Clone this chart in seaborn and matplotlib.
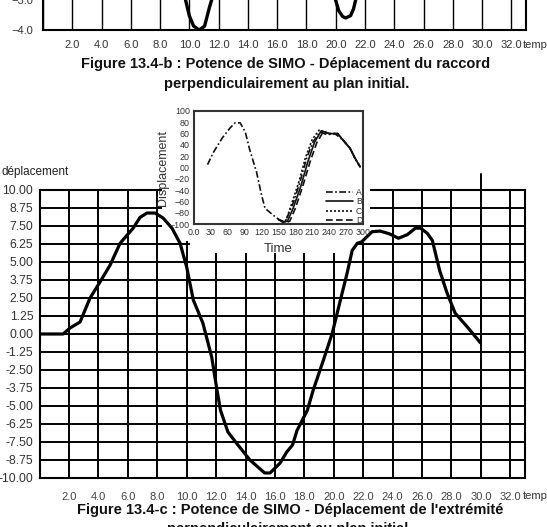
import numpy as np
import pandas as pd
import matplotlib
matplotlib.use("Agg")
import matplotlib.pyplot as plt
from matplotlib.patches import Rectangle
import seaborn as sns

# ---------------- data ----------------
# main chart (Figure 13.4-c)
time_c = [0, 1.6, 2.07, 2.75, 3.43, 4.1, 4.8, 5.47, 6.36, 6.83, 7.3, 7.85, 8.4, 9.0, 9.55,
          10.0, 10.45, 11.1, 11.7, 12.06, 12.3, 12.8, 13.4, 14.3, 15.3, 15.67, 16.35, 16.8,
          17.2, 17.5, 18.2, 18.6, 19.3, 19.9, 20.4, 20.9, 21.25, 21.6, 21.9, 22.6, 23.15,
          23.8, 24.4, 25.0, 25.55, 25.9, 26.35, 26.7, 27.2, 27.7, 28.25, 29.07, 29.96]
disp_c = [0, 0, 0.42, 0.83, 2.5, 3.6, 4.8, 6.3, 7.35, 8.1, 8.4, 8.4, 8.05, 7.35, 6.3,
          4.65, 2.36, 0.76, -1.6, -3.9, -5.3, -6.8, -7.6, -8.75, -9.65, -9.65, -8.96, -8.2,
          -7.7, -6.7, -5.3, -3.9, -1.8, 0.07, 2.15, 4.2, 5.8, 6.3, 6.4, 7.1, 7.15,
          6.95, 6.65, 6.9, 7.35, 7.35, 7.0, 6.5, 4.4, 2.85, 1.45, 0.5, -0.6]
y_ticks_c = [10.0, 8.75, 7.5, 6.25, 5.0, 3.75, 2.5, 1.25, 0.0, -1.25, -2.5, -3.75,
             -5.0, -6.25, -7.5, -8.75, -10.0]
y_labels_c = ["10.00", "8.75", "7.50", "6.25", "5.00", "3.75", "2.50", "1.25", "0.00",
              "-1.25", "-2.50", "-3.75", "-5.00", "-6.25", "-7.50", "-8.75", "-10.00"]
x_ticks = [0, 2, 4, 6, 8, 10, 12, 14, 16, 18, 20, 22, 24, 26, 28, 30, 32]
x_labels = ["", "2.0", "4.0", "6.0", "8.0", "10.0", "12.0", "14.0", "16.0", "18.0",
            "20.0", "22.0", "24.0", "26.0", "28.0", "30.0", "32.0"]

# top fragment (bottom of Figure 13.4-b)
time_b = [9.6, 9.74, 10.0, 10.29, 10.67, 11.04, 11.22, 11.38, 11.52, 11.7,
          19.85, 19.99, 20.2, 20.47, 20.68, 21.02, 21.22, 21.36, 21.5]
disp_b = [-2.5, -3.0, -3.53, -3.87, -4.0, -3.87, -3.53, -3.23, -3.0, -2.5,
          -2.5, -3.0, -3.35, -3.55, -3.6, -3.52, -3.29, -3.0, -2.5]

# inset
t_A = [24, 34, 50, 64, 73, 82, 91, 99, 111, 120, 126, 140, 156, 162, 176, 188, 200,
       211, 224, 236, 250, 265, 277, 285, 295]
d_A = [5, 26, 52, 70, 79, 79, 63, 31, -8, -49, -72, -84, -96, -96, -63, -26, 17,
       45, 63, 58, 60, 48, 34, 18, 1]
t_B = [150, 160, 166, 176, 190, 202, 214, 226, 240, 255, 265, 277, 285, 295]
d_B = [-92, -96, -95, -72, -32, 10, 45, 65, 60, 60, 48, 34, 18, 1]
t_C = [150, 158, 164, 172, 186, 198, 210, 222, 240, 255, 265, 277, 285, 295]
d_C = [-92, -97, -92, -68, -26, 18, 50, 66, 60, 60, 48, 34, 18, 1]
t_D = [150, 162, 170, 180, 194, 206, 218, 230, 240, 255, 265, 277, 285, 295]
d_D = [-92, -98, -95, -72, -30, 10, 44, 64, 60, 60, 48, 34, 18, 1]
inset_xticks = [0, 30, 60, 90, 120, 150, 180, 210, 240, 270, 300]
inset_xlabels = ["0.0", "30", "60", "90", "120", "150", "180", "210", "240", "270", "300"]
inset_yticks = [-100, -80, -60, -40, -20, 0, 20, 40, 60, 80, 100]
inset_ylabels = ["\u2212100", "\u221280", "\u221260", "\u221240", "\u221220", "00",
                 "20", "40", "60", "80", "100"]

# ---------------- style ----------------
sns.set_style("white")
plt.rcParams["font.family"] = ["Liberation Sans", "DejaVu Sans"]

W, H = 547, 527
fig = plt.figure(figsize=(W / 100, H / 100), dpi=100)
fig.patch.set_facecolor("white")


def fx(px):
    return px / W


def fy(py):
    return (H - py) / H


# ---------------- top fragment ----------------
axt = fig.add_axes([fx(43), fy(30), fx(526) - fx(43), 60 / H])
sns.lineplot(x=time_b, y=disp_b, ax=axt, color="black", lw=2.4, sort=False, zorder=3)
axt.set_xlim(0, 33)
axt.set_ylim(-4, -2)
axt.set_xticks(x_ticks)
axt.set_xticklabels(x_labels)
axt.set_yticks([-4, -3])
axt.set_yticklabels(["\u22124.0", "\u22123.0"])
axt.grid(True, axis="x", color="black", lw=1.0)
axt.set_axisbelow(True)
for s in axt.spines.values():
    s.set_color("black")
    s.set_linewidth(1.5)
axt.tick_params(axis="both", direction="out", length=4, width=1.2, colors="black",
                labelsize=8, labelcolor="#333333", pad=3)
axt.set_xlabel("")
axt.set_ylabel("")
fig.text(fx(523), fy(45), "temps", ha="left", va="center", fontsize=8, color="#333333")

fig.text(fx(286), fy(64), "Figure 13.4-b : Potence de SIMO - Déplacement du raccord",
         ha="center", va="center", fontsize=10.5, weight="bold", color="#111111")
fig.text(fx(287), fy(84), "perpendiculairement au plan initial.",
         ha="center", va="center", fontsize=10.5, weight="bold", color="#111111")

# ---------------- main chart ----------------
ax = fig.add_axes([fx(39.6), fy(478), fx(525) - fx(39.6), 288 / H])
sns.lineplot(x=time_c, y=disp_c, ax=ax, color="black", lw=2.3, sort=False, zorder=3)
ax.set_xlim(0, 33)
ax.set_ylim(-10, 10)
ax.set_xticks(x_ticks)
ax.set_xticklabels(x_labels)
ax.set_yticks(y_ticks_c)
ax.set_yticklabels(y_labels_c)
ax.grid(True, color="black", lw=1.4)
ax.set_axisbelow(True)
for s in ax.spines.values():
    s.set_color("black")
    s.set_linewidth(1.5)
ax.tick_params(axis="x", direction="out", length=5, width=1.3, colors="black",
               labelsize=8, labelcolor="#444444", pad=5)
ax.tick_params(axis="y", direction="out", length=3, width=1.3, colors="black",
               labelsize=8.8, labelcolor="#333333", pad=1.5)
ax.set_xlabel("")
ax.set_ylabel("")
ax.axvline(30, ymin=0, ymax=1 + 16 / 288, color="black", lw=1.4, clip_on=False, zorder=0.5)

# white areas where the inset sits
for (x0, y0, x1, y1) in [(162, 95, 370, 241), (190, 241, 358, 253)]:
    ax.add_patch(Rectangle((fx(x0), fy(y1)), fx(x1) - fx(x0), (y1 - y0) / H,
                           transform=fig.transFigure, facecolor="white",
                           edgecolor="none", zorder=2.7, clip_on=False))

fig.text(fx(1), fy(172), "déplacement", ha="left", va="center", fontsize=8.5,
         color="#222222")
fig.text(fx(523), fy(496), "temps", ha="left", va="center", fontsize=8, color="#333333")

fig.text(fx(290), fy(510), "Figure 13.4-c : Potence de SIMO - Déplacement de l'extrémité",
         ha="center", va="center", fontsize=10.5, weight="bold", color="#111111")
fig.text(fx(290), fy(529), "perpendiculairement au plan initial.",
         ha="center", va="center", fontsize=10.5, weight="bold", color="#111111")

# ---------------- inset ----------------
axi = fig.add_axes([fx(194), fy(224), fx(363) - fx(194), 113 / H])
axi.set_facecolor("white")
series = [("A", t_A, d_A, (0, (4, 1.5, 1, 1.5))),
          ("B", t_B, d_B, "-"),
          ("C", t_C, d_C, (0, (1.2, 1.2))),
          ("D", t_D, d_D, (0, (4, 2)))]
for name, t, d, ls in series:
    sns.lineplot(x=t, y=d, ax=axi, color="#111111", lw=1.2, linestyle=ls,
                 label=name, sort=False)
axi.set_xlim(0, 300)
axi.set_ylim(-100, 100)
axi.set_xticks(inset_xticks)
axi.set_xticklabels(inset_xlabels)
axi.set_yticks(inset_yticks)
axi.set_yticklabels(inset_ylabels)
for s in axi.spines.values():
    s.set_color("#333333")
    s.set_linewidth(1.5)
axi.tick_params(axis="both", direction="in", length=3, width=1.0, colors="#333333",
                labelsize=6.4, labelcolor="#333333", pad=3)
axi.set_xlabel("Time", fontsize=9.5, color="#333333")
axi.set_ylabel("Displacement", fontsize=9, color="#333333")
axi.xaxis.set_label_coords(0.5, -0.17)
axi.yaxis.set_label_coords(-0.145, 0.5)
leg = axi.legend(loc="lower right", bbox_to_anchor=(1.03, -0.06), frameon=False,
                 fontsize=6.2, handlelength=3.2, handletextpad=0.3, labelspacing=0.02,
                 borderpad=0.2)
for txt in leg.get_texts():
    txt.set_color("#333333")

fig.savefig("out.png", dpi=100, facecolor="white")
